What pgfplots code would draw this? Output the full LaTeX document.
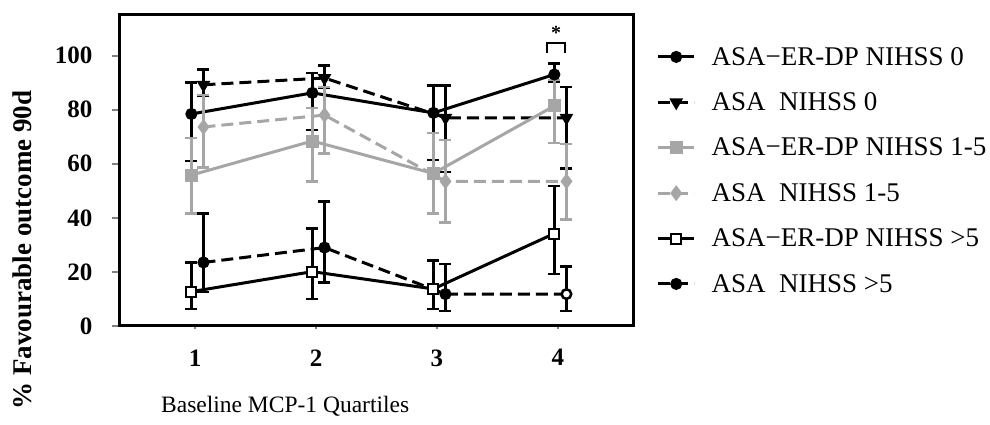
\documentclass[border=0pt]{standalone}
\usepackage{fontspec}
\setmainfont{Liberation Serif}
\usepackage{pgfplots}
\pgfplotsset{compat=1.18}
\definecolor{lg}{RGB}{166,166,166}
\pgfplotstableread{
x y ep em
0.97 78.4 11.6 17.4
1.97 86.2 7.4 13.7
2.97 78.8 10.2 17.5
3.97 93.0 4.0 2.5
}\erdpA
\pgfplotstableread{
x y ep em
1.07 89.2 5.6 4.0
2.07 91.7 4.6 3.5
3.07 77.0 12.0 20.0
4.07 77.0 11.4 18.7
}\asaA
\pgfplotstableread{
x y ep em
0.97 55.8 13.7 14.2
1.97 68.4 12.2 14.9
2.97 56.4 14.9 14.8
3.97 81.4 9.6 13.8
}\erdpB
\pgfplotstableread{
x y ep em
1.07 73.6 11.9 15.0
2.07 78.0 10.4 14.2
3.07 53.5 15.3 15.2
4.07 53.5 13.8 14.1
}\asaB
\pgfplotstableread{
x y ep em
0.97 12.7 10.8 6.4
1.97 20.1 15.9 10.1
2.97 13.7 10.5 7.4
3.97 34.2 17.5 14.9
}\erdpC
\pgfplotstableread{
x y ep em
1.07 23.5 18.1 11.0
2.07 29.0 17.0 13.0
3.07 11.8 11.2 6.2
4.07 11.8 10.2 6.2
}\asaC
\begin{document}
\begin{tikzpicture}
\path[use as bounding box] (0,0) rectangle (990pt,425pt);
\begin{axis}[
  at={(120pt,99pt)}, anchor=south west,
  scale only axis, width=513pt, height=311pt,
  xmin=0.38, xmax=4.62, ymin=0, ymax=115,
  xtick={1,2,3,4}, ytick={0,20,...,100},
  tick align=outside, xtick pos=left, ytick pos=left,
  axis line style={line width=3pt},
  major tick length=8pt,
  xtick style={line width=2pt,/pgfplots/major tick length=3pt},
  ytick style={line width=2pt},
  /pgf/number format/assume math mode=true,
  ticklabel style={font=\fontsize{25}{25}\selectfont\bfseries},
  xticklabel style={yshift=-12pt},
  yticklabel style={xshift=-16pt},
  xlabel={Baseline MCP-1 Quartiles},
  ylabel={\% Favourable outcome 90d},
  xlabel style={font=\fontsize{23.5}{23.5}\selectfont, at={(axis description cs:0.322,-0.258)}, anchor=center},
  ylabel style={font=\fontsize{27}{27}\selectfont\bfseries, at={(axis description cs:-0.19,0.244)}, anchor=center},
  clip=false,
  legend cell align=left,
  legend style={at={(axis description cs:1.04,0.91)}, anchor=north west, draw=none, fill=none,
    font=\fontsize{27}{27}\selectfont, row sep=22pt,
    /tikz/every odd column/.append style={column sep=14pt}},
  legend image code/.code={\draw[mark repeat=2,mark phase=2,#1] plot coordinates {(0pt,0pt) (18pt,0pt) (36pt,0pt)};},
  every axis plot/.append style={line width=3pt},
  error bars/error bar style={solid, line width=2.5pt},
  error bars/error mark options={rotate=90, solid, line width=2.5pt, mark size=6pt},
]
\addplot[black, mark=*, mark size=4.5pt, mark options={solid},
  error bars/.cd, y dir=both, y explicit]
  table[x=x, y=y, y error plus=ep, y error minus=em] {\erdpA};
\addlegendentry{ASA−ER-DP NIHSS 0}
\addplot[black, dash pattern=on 12pt off 6pt, mark=triangle*, mark size=5pt, mark options={solid, rotate=180},
  error bars/.cd, y dir=both, y explicit]
  table[x=x, y=y, y error plus=ep, y error minus=em] {\asaA};
\addlegendentry{ASA\ \ NIHSS 0}
\addplot[lg, mark=square*, mark size=5pt, mark options={solid},
  error bars/.cd, y dir=both, y explicit]
  table[x=x, y=y, y error plus=ep, y error minus=em] {\erdpB};
\addlegendentry{ASA−ER-DP NIHSS 1-5}
\addplot[lg, dash pattern=on 12pt off 6pt, mark=diamond*, mark size=5.5pt, mark options={solid},
  error bars/.cd, y dir=both, y explicit]
  table[x=x, y=y, y error plus=ep, y error minus=em] {\asaB};
\addlegendentry{ASA\ \ NIHSS 1-5}
\addplot[black, mark=square*, mark size=5pt, mark options={solid, fill=white, line width=2pt},
  error bars/.cd, y dir=both, y explicit]
  table[x=x, y=y, y error plus=ep, y error minus=em] {\erdpC};
\addlegendentry{ASA−ER-DP NIHSS >5}
\addplot[black, dash pattern=on 12pt off 6pt, mark=*, mark size=4.5pt, mark options={solid},
  error bars/.cd, y dir=both, y explicit]
  table[x=x, y=y, y error plus=ep, y error minus=em] {\asaC};
\addlegendentry{ASA\ \ NIHSS >5}
\addplot[black, only marks, mark=*, mark size=4.5pt, mark options={solid, fill=white, line width=2pt}, forget plot]
  coordinates {(4.07,11.8)};
\draw[line width=2pt] (axis cs:3.91,101) |- (axis cs:4.06,104.5) -- (axis cs:4.06,101);
\node[font=\fontsize{20}{20}\selectfont\bfseries] at (axis cs:3.985,108.5) {*};
\end{axis}
\end{tikzpicture}
\end{document}
